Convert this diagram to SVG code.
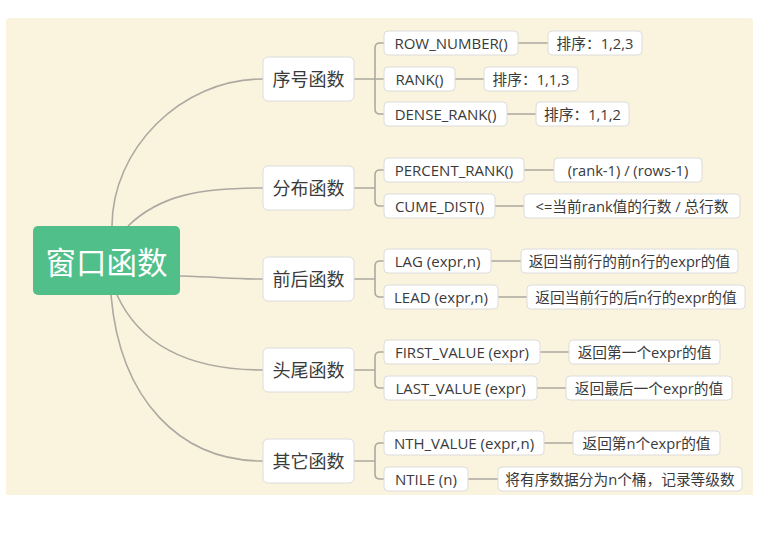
<svg xmlns="http://www.w3.org/2000/svg" width="776" height="534" viewBox="0 0 776 534">
<style>
.bg{fill:#FAF3DE}
.root rect{fill:#50BF89}
.root text{fill:#fff;font-size:30.5px}
text{font-family:"Open Sans","Noto Sans CJK SC",sans-serif;text-anchor:middle;dominant-baseline:central;fill:#3a3a3a}
.l1 rect{fill:#fff;stroke:#DCDCDC;stroke-width:1}
.l1 text{font-size:18px}
.l2 rect,.l3 rect{fill:#fff;stroke:#DCDCDC;stroke-width:1}
.l2 text{font-size:15px}
.l3 text{font-size:14.7px}
.conn path{fill:none;stroke:#ADA9A0;stroke-width:1.6}
</style>
<path class="bg" d="M6,22 Q6,18 10,18 L749,18 Q753,18 753,22 L753,495 L6,495 Z"/>
<g class="conn">
<path d="M112,226 C112,150 180,79 263,79"/>
<path d="M128,226 C160,195 200,188 263,188"/>
<path d="M180,276 C220,277 230,279 263,279"/>
<path d="M117,295 C140,345 190,370 263,370"/>
<path d="M111,295 C120,400 180,461 263,461"/>
<path d="M354,79 H384 M375,79 V48 Q375,43 380,43 H384 M375,79 V109 Q375,114 380,114 H384"/>
<path d="M354,188 H375 V175 Q375,170 380,170 H384 M375,188 V201 Q375,206 380,206 H384"/>
<path d="M354,279 H375 V266 Q375,261 380,261 H384 M375,279 V292 Q375,297 380,297 H384"/>
<path d="M354,370 H375 V357 Q375,352 380,352 H384 M375,370 V383 Q375,388 380,388 H384"/>
<path d="M354,461 H375 V448 Q375,443 380,443 H384 M375,461 V474 Q375,479 380,479 H384"/>
<path d="M518,43 H548 M455,79 H484 M507,114 H536 M524,170 H554 M495,206 H524 M491,261 H521 M498,297 H527 M540,352 H569 M537,388 H566 M544,443 H573 M468,479 H498"/>
</g>
<g id="root" class="root"><rect x="33" y="226" width="147" height="69" rx="5"/><text x="106.5" y="262">窗口函数</text></g>
<g id="n1" class="l1"><rect x="263" y="57" width="91" height="44" rx="5"/><text x="308.5" y="79">序号函数</text></g>
<g id="n2" class="l1"><rect x="263" y="166" width="91" height="44" rx="5"/><text x="308.5" y="188">分布函数</text></g>
<g id="n3" class="l1"><rect x="263" y="257" width="91" height="44" rx="5"/><text x="308.5" y="279">前后函数</text></g>
<g id="n4" class="l1"><rect x="263" y="348" width="91" height="44" rx="5"/><text x="308.5" y="370">头尾函数</text></g>
<g id="n5" class="l1"><rect x="263" y="439" width="91" height="44" rx="5"/><text x="308.5" y="461">其它函数</text></g>
<g id="rownumber" class="l2"><rect x="384" y="31" width="134" height="24" rx="4"/><text x="451" y="43">ROW_NUMBER()</text></g>
<g id="rank" class="l2"><rect x="384" y="67" width="71" height="24" rx="4"/><text x="419.5" y="79">RANK()</text></g>
<g id="denserank" class="l2"><rect x="384" y="102" width="123" height="24" rx="4"/><text x="445.5" y="114">DENSE_RANK()</text></g>
<g id="percentrank" class="l2"><rect x="384" y="158" width="140" height="24" rx="4"/><text x="454" y="170">PERCENT_RANK()</text></g>
<g id="cumedist" class="l2"><rect x="384" y="194" width="111" height="24" rx="4"/><text x="439.5" y="206">CUME_DIST()</text></g>
<g id="lag" class="l2"><rect x="384" y="249" width="107" height="24" rx="4"/><text x="437.5" y="261">LAG (expr,n)</text></g>
<g id="lead" class="l2"><rect x="384" y="285" width="114" height="24" rx="4"/><text x="441" y="297">LEAD (expr,n)</text></g>
<g id="firstvalue" class="l2"><rect x="384" y="340" width="156" height="24" rx="4"/><text x="462" y="352">FIRST_VALUE (expr)</text></g>
<g id="lastvalue" class="l2"><rect x="384" y="376" width="153" height="24" rx="4"/><text x="460.5" y="388">LAST_VALUE (expr)</text></g>
<g id="nthvalue" class="l2"><rect x="384" y="431" width="160" height="24" rx="4"/><text x="464" y="443">NTH_VALUE (expr,n)</text></g>
<g id="ntile" class="l2"><rect x="384" y="467" width="84" height="24" rx="4"/><text x="426" y="479">NTILE (n)</text></g>
<g id="v1" class="l3"><rect x="548" y="31" width="94" height="24" rx="4"/><text x="595" y="43">排序：1,2,3</text></g>
<g id="v2" class="l3"><rect x="484" y="67" width="94" height="24" rx="4"/><text x="531" y="79">排序：1,1,3</text></g>
<g id="v3" class="l3"><rect x="536" y="102" width="93" height="24" rx="4"/><text x="582.5" y="114">排序：1,1,2</text></g>
<g id="v4" class="l3"><rect x="554" y="158" width="148" height="24" rx="4"/><text x="628" y="170">(rank-1) / (rows-1)</text></g>
<g id="v5" class="l3"><rect x="524" y="194" width="216" height="24" rx="4"/><text x="632" y="206">&lt;=当前rank值的行数 / 总行数</text></g>
<g id="v6" class="l3"><rect x="521" y="249" width="217" height="24" rx="4"/><text x="629.5" y="261">返回当前行的前n行的expr的值</text></g>
<g id="v7" class="l3"><rect x="527" y="285" width="218" height="24" rx="4"/><text x="636" y="297">返回当前行的后n行的expr的值</text></g>
<g id="v8" class="l3"><rect x="569" y="340" width="151" height="24" rx="4"/><text x="644.5" y="352">返回第一个expr的值</text></g>
<g id="v9" class="l3"><rect x="566" y="376" width="166" height="24" rx="4"/><text x="649" y="388">返回最后一个expr的值</text></g>
<g id="v10" class="l3"><rect x="573" y="431" width="147" height="24" rx="4"/><text x="646.5" y="443">返回第n个expr的值</text></g>
<g id="v11" class="l3"><rect x="498" y="467" width="244" height="24" rx="4"/><text x="620" y="479">将有序数据分为n个桶，记录等级数</text></g>
</svg>
